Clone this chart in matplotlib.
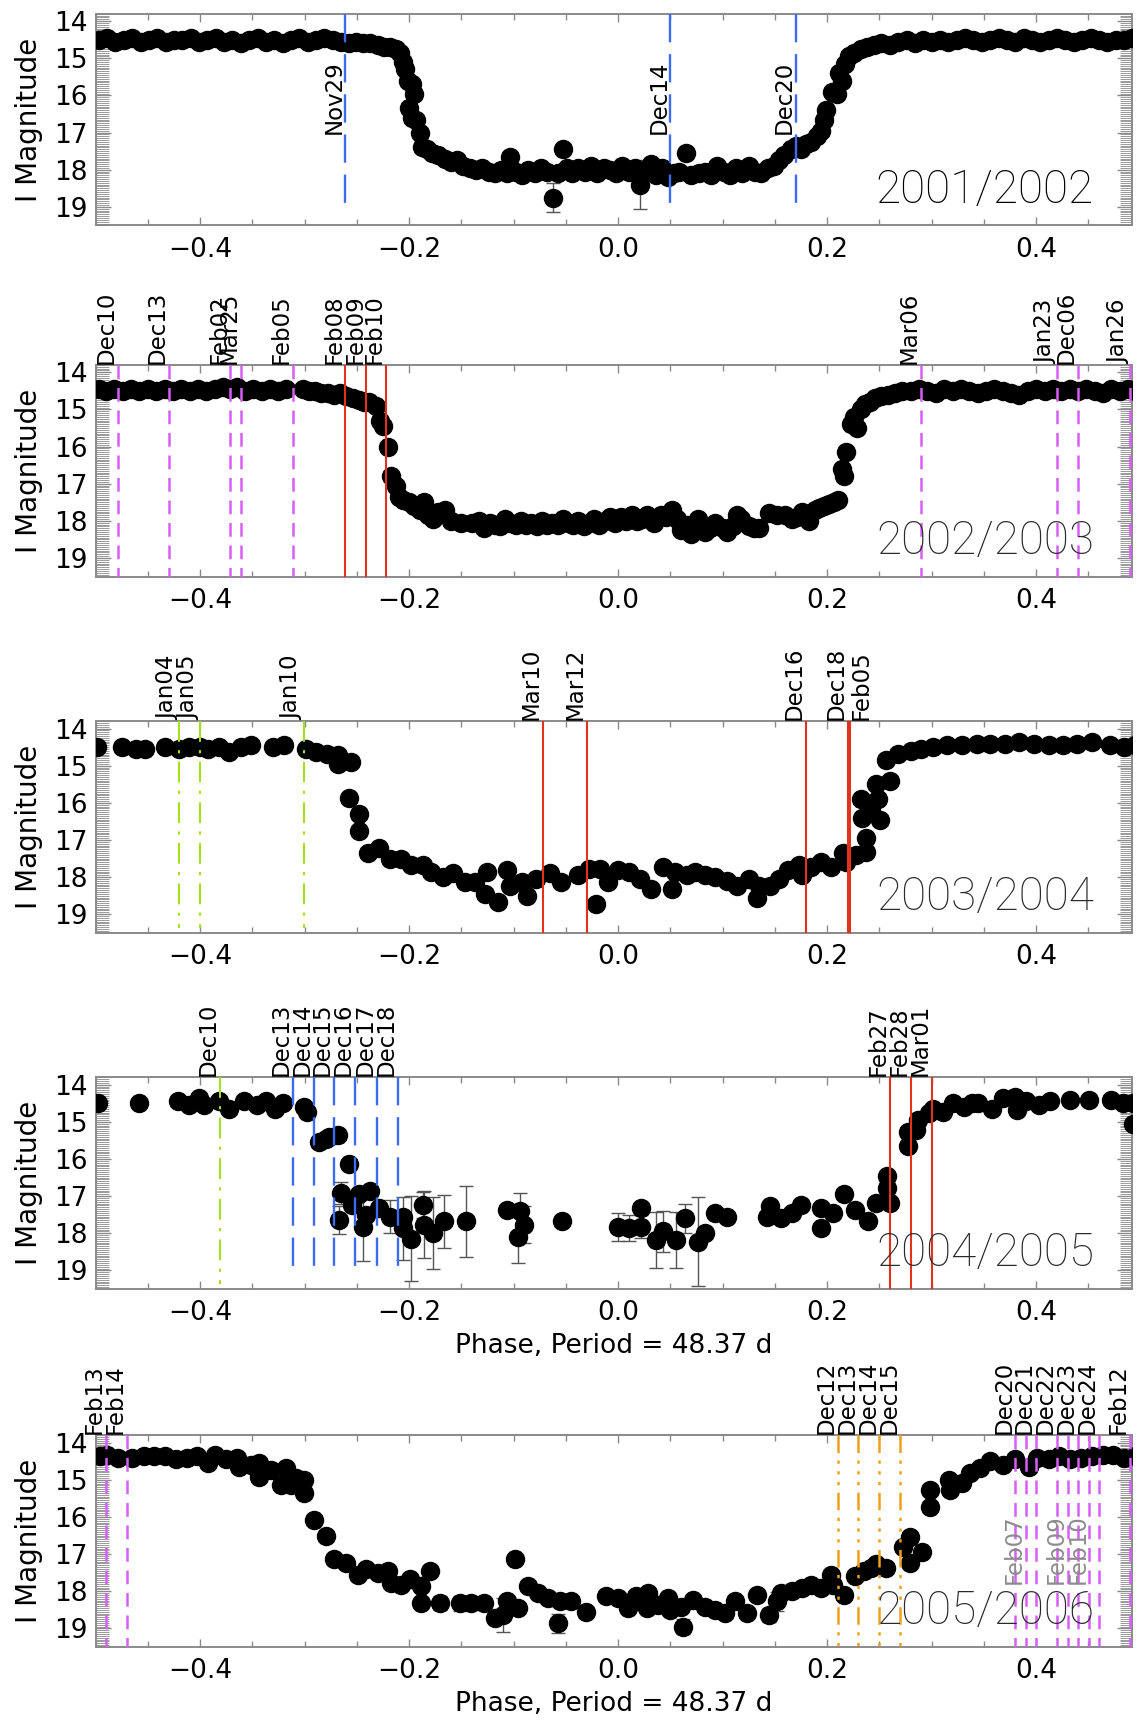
import matplotlib
matplotlib.use('Agg')
import matplotlib.pyplot as plt
import matplotlib.transforms as mtransforms
from matplotlib.ticker import MultipleLocator, FuncFormatter

plt.rcParams['font.family'] = ['DejaVu Sans']

seasons = ['2001/2002', '2002/2003', '2003/2004', '2004/2005', '2005/2006']

# ---------------- 2001/2002 ----------------
p1_phase = [-0.497, -0.489, -0.481, -0.473, -0.465, -0.457, -0.449, -0.441, -0.433, -0.425,
            -0.417, -0.409, -0.401, -0.393, -0.385, -0.377, -0.369, -0.361, -0.353, -0.345,
            -0.337, -0.329, -0.321, -0.313, -0.305, -0.297, -0.289, -0.281, -0.273, -0.265,
            -0.258, -0.251, -0.244, -0.237, -0.230, -0.224, -0.218, -0.213, -0.209, -0.206,
            -0.204, -0.201, -0.197, -0.195, -0.200, -0.197, -0.193, -0.190, -0.188, -0.183,
            -0.178, -0.172, -0.166, -0.160, -0.154, -0.148, -0.142, -0.136, -0.130, -0.124,
            -0.118, -0.112, -0.106, -0.103, -0.098, -0.092, -0.086, -0.080, -0.074, -0.068,
            -0.062, -0.058, -0.053, -0.049, -0.044, -0.038, -0.032, -0.026, -0.020, -0.014,
            -0.008, -0.002, 0.004, 0.010, 0.016, 0.021, 0.026, 0.031, 0.036, 0.042,
            0.048, 0.053, 0.058, 0.065, 0.070, 0.077, 0.083, 0.089, 0.095, 0.101,
            0.107, 0.113, 0.119, 0.125, 0.131, 0.137, 0.143, 0.149, 0.154, 0.159,
            0.165, 0.170, 0.175, 0.180, 0.185, 0.190, 0.194, 0.197, 0.199, 0.205,
            0.209, 0.211, 0.214, 0.217, 0.221, 0.226, 0.232, 0.238, 0.245, 0.252,
            0.260, 0.268, 0.276, 0.284, 0.292, 0.300, 0.308, 0.316, 0.324, 0.332,
            0.340, 0.348, 0.356, 0.364, 0.372, 0.380, 0.388, 0.396, 0.404, 0.412,
            0.420, 0.428, 0.436, 0.444, 0.452, 0.460, 0.468, 0.476, 0.484, 0.492]
p1_mag = [14.50, 14.45, 14.55, 14.50, 14.45, 14.55, 14.50, 14.45, 14.55, 14.50,
          14.50, 14.45, 14.55, 14.50, 14.45, 14.55, 14.50, 14.60, 14.50, 14.45,
          14.55, 14.50, 14.60, 14.50, 14.45, 14.55, 14.50, 14.45, 14.50, 14.55,
          14.60, 14.55, 14.60, 14.60, 14.65, 14.70, 14.70, 14.75, 14.85, 15.10,
          15.30, 15.60, 15.70, 15.95, 16.35, 16.60, 16.65, 17.00, 17.40, 17.45,
          17.55, 17.60, 17.70, 17.80, 17.75, 17.90, 17.95, 18.00, 17.95, 18.05,
          18.10, 18.00, 18.10, 17.65, 18.05, 18.15, 18.00, 18.10, 17.95, 18.05,
          18.75, 18.10, 17.45, 17.95, 18.10, 17.95, 18.05, 17.90, 18.10, 17.95,
          18.00, 18.10, 17.90, 18.05, 17.95, 18.40, 18.00, 17.85, 18.15, 17.95,
          18.20, 18.10, 18.05, 17.55, 18.15, 18.10, 18.05, 18.15, 17.90, 18.05,
          18.15, 17.95, 18.10, 17.90, 18.05, 18.10, 17.95, 17.90, 17.75, 17.60,
          17.45, 17.35, 17.45, 17.30, 17.25, 17.10, 16.95, 16.65, 16.40, 15.90,
          15.95, 15.40, 15.60, 15.15, 14.95, 14.85, 14.75, 14.70, 14.65, 14.60,
          14.65, 14.55, 14.50, 14.60, 14.50, 14.55, 14.50, 14.55, 14.50, 14.45,
          14.50, 14.55, 14.50, 14.45, 14.50, 14.55, 14.45, 14.50, 14.55, 14.50,
          14.45, 14.50, 14.55, 14.50, 14.45, 14.50, 14.55, 14.50, 14.50, 14.45]
p1_eb_phase = [-0.062, 0.021]
p1_eb_mag = [18.75, 18.40]
p1_eb_err = [0.40, 0.65]
p1_blue_phase = [-0.261, 0.050, 0.170]
p1_blue_label = ['Nov29', 'Dec14', 'Dec20']

# ---------------- 2002/2003 ----------------
p2_phase = [-0.497, -0.490, -0.482, -0.474, -0.466, -0.458, -0.450, -0.442, -0.434, -0.426,
            -0.418, -0.410, -0.402, -0.394, -0.386, -0.378, -0.371, -0.365, -0.357, -0.349,
            -0.341, -0.333, -0.325, -0.318, -0.302, -0.296, -0.290, -0.284, -0.278, -0.272,
            -0.266, -0.260, -0.254, -0.248, -0.243, -0.238, -0.232, -0.228, -0.225, -0.220,
            -0.217, -0.213, -0.210, -0.206, -0.200, -0.195, -0.190, -0.186, -0.182, -0.177,
            -0.172, -0.166, -0.160, -0.150, -0.140, -0.133, -0.128, -0.123, -0.118, -0.113,
            -0.108, -0.103, -0.098, -0.093, -0.088, -0.083, -0.078, -0.073, -0.068, -0.063,
            -0.058, -0.053, -0.048, -0.043, -0.038, -0.033, -0.028, -0.023, -0.018, -0.013,
            -0.008, -0.003, 0.003, 0.008, 0.013, 0.018, 0.023, 0.028, 0.034, 0.041,
            0.046, 0.052, 0.056, 0.060, 0.066, 0.070, 0.076, 0.083, 0.088, 0.093,
            0.100, 0.104, 0.110, 0.114, 0.118, 0.125, 0.130, 0.135, 0.144, 0.152,
            0.160, 0.166, 0.171, 0.176, 0.180, 0.183, 0.188, 0.192, 0.197, 0.202,
            0.207, 0.210, 0.214, 0.216, 0.218, 0.223, 0.226, 0.229, 0.232, 0.236,
            0.241, 0.246, 0.252, 0.258, 0.265, 0.272, 0.280, 0.288, 0.296, 0.304,
            0.312, 0.320, 0.328, 0.336, 0.344, 0.352, 0.360, 0.368, 0.376, 0.384,
            0.392, 0.400, 0.408, 0.416, 0.424, 0.432, 0.440, 0.448, 0.456, 0.464,
            0.472, 0.480, 0.488, 0.495]
p2_mag = [14.45, 14.50, 14.45, 14.50, 14.45, 14.50, 14.45, 14.50, 14.45, 14.50,
          14.45, 14.50, 14.45, 14.50, 14.45, 14.40, 14.45, 14.40, 14.50, 14.45,
          14.50, 14.45, 14.50, 14.45, 14.45, 14.50, 14.50, 14.55, 14.55, 14.60,
          14.55, 14.65, 14.70, 14.75, 14.80, 14.80, 14.90, 15.30, 15.45, 16.00,
          16.80, 17.05, 17.35, 17.45, 17.50, 17.60, 17.70, 17.50, 17.85, 17.95,
          17.75, 17.70, 18.00, 18.05, 18.05, 18.00, 18.20, 18.05, 18.10, 18.15,
          17.95, 18.05, 18.10, 18.00, 18.10, 18.05, 18.15, 18.00, 18.10, 18.05,
          18.10, 17.95, 18.05, 18.10, 18.00, 18.15, 18.05, 17.95, 18.10, 18.00,
          17.90, 18.05, 17.90, 18.00, 17.85, 18.00, 17.95, 17.85, 18.05, 17.85,
          17.90, 17.70, 17.95, 18.25, 18.10, 18.35, 17.95, 18.30, 18.20, 18.05,
          18.20, 18.30, 18.15, 17.85, 17.95, 18.15, 18.20, 18.20, 17.80, 17.85,
          17.85, 17.95, 17.90, 17.75, 17.85, 18.00, 17.70, 17.65, 17.60, 17.55,
          17.50, 17.45, 16.60, 16.80, 16.15, 15.40, 15.20, 15.50, 15.00, 14.85,
          14.80, 14.70, 14.65, 14.60, 14.55, 14.50, 14.50, 14.45, 14.50, 14.55,
          14.45, 14.50, 14.45, 14.50, 14.55, 14.50, 14.45, 14.50, 14.55, 14.60,
          14.50, 14.45, 14.50, 14.45, 14.50, 14.45, 14.50, 14.45, 14.50, 14.55,
          14.45, 14.50, 14.45, 14.50]
p2_eb_phase = [-0.128, 0.070]
p2_eb_mag = [18.20, 18.35]
p2_eb_err = [0.12, 0.10]
p2_magenta_phase = [-0.479, -0.430, -0.371, -0.361, -0.311, 0.290, 0.420, 0.440, 0.490]
p2_magenta_label = ['Dec10', 'Dec13', 'Feb02', 'Mar25', 'Feb05', 'Mar06', 'Jan23', 'Dec06', 'Jan26']
p2_red_phase = [-0.261, -0.241, -0.222]
p2_red_label = ['Feb08', 'Feb09', 'Feb10']

# ---------------- 2003/2004 ----------------
p3_phase = [-0.499, -0.475, -0.461, -0.453, -0.434, -0.420, -0.411, -0.400, -0.392, -0.382,
            -0.372, -0.361, -0.351, -0.330, -0.320, -0.299, -0.289, -0.279, -0.268, -0.268,
            -0.256, -0.258, -0.248, -0.248, -0.239, -0.229, -0.218, -0.208, -0.198, -0.187,
            -0.179, -0.168, -0.158, -0.147, -0.137, -0.125, -0.127, -0.115, -0.106, -0.103,
            -0.092, -0.087, -0.079, -0.065, -0.055, -0.038, -0.028, -0.021, -0.017, -0.010,
            0.000, 0.010, 0.021, 0.031, 0.043, 0.052, 0.054, 0.066, 0.074, 0.083,
            0.093, 0.104, 0.114, 0.125, 0.133, 0.135, 0.145, 0.154, 0.163, 0.173,
            0.176, 0.185, 0.194, 0.204, 0.215, 0.218, 0.228, 0.237, 0.237, 0.233,
            0.232, 0.242, 0.251, 0.249, 0.247, 0.260, 0.256, 0.268, 0.280, 0.290,
            0.301, 0.315, 0.329, 0.343, 0.356, 0.370, 0.384, 0.398, 0.412, 0.426,
            0.439, 0.453, 0.471, 0.484, 0.495]
p3_mag = [14.50, 14.50, 14.55, 14.55, 14.50, 14.55, 14.50, 14.50, 14.55, 14.50,
          14.64, 14.50, 14.45, 14.50, 14.45, 14.55, 14.64, 14.68, 14.95, 14.70,
          14.90, 15.86, 16.30, 16.77, 17.36, 17.23, 17.50, 17.50, 17.68, 17.68,
          17.86, 18.00, 17.90, 18.14, 18.14, 17.86, 18.45, 18.68, 17.82, 18.23,
          18.14, 18.50, 18.05, 17.90, 18.14, 17.95, 17.77, 18.73, 17.77, 18.14,
          17.82, 17.86, 18.05, 18.32, 17.73, 18.32, 17.86, 17.95, 17.86, 17.95,
          18.00, 18.10, 18.23, 18.05, 18.55, 18.23, 18.23, 18.05, 17.82, 17.68,
          17.95, 17.73, 17.60, 17.73, 17.36, 17.60, 17.40, 17.32, 16.95, 16.40,
          15.90, 16.20, 16.45, 15.90, 15.50, 15.40, 14.86, 14.68, 14.60, 14.55,
          14.50, 14.45, 14.45, 14.41, 14.41, 14.41, 14.36, 14.41, 14.45, 14.45,
          14.41, 14.36, 14.45, 14.50, 14.45]
p3_green_phase = [-0.420, -0.400, -0.301]
p3_green_label = ['Jan04', 'Jan05', 'Jan10']
p3_red_phase = [-0.072, -0.030, 0.180, 0.220, 0.222]
p3_red_label = ['Mar10', 'Mar12', 'Dec16', 'Dec18', 'Feb05']
p3_red_side = ['right', 'right', 'right', 'right', 'left']

# ---------------- 2004/2005 ----------------
p4_phase = [-0.498, -0.458, -0.421, -0.411, -0.401, -0.396, -0.382, -0.372, -0.358, -0.346,
            -0.337, -0.328, -0.321, -0.301, -0.298, -0.286, -0.280, -0.277, -0.268, -0.258,
            -0.265, -0.267, -0.255, -0.248, -0.244, -0.241, -0.237, -0.229, -0.218, -0.206,
            -0.206, -0.198, -0.187, -0.186, -0.177, -0.167, -0.146, -0.106, -0.094, -0.090,
            -0.096, -0.054, 0.000, 0.010, 0.022, 0.022, 0.036, 0.043, 0.055, 0.064,
            0.076, 0.083, 0.093, 0.104, 0.142, 0.145, 0.156, 0.166, 0.175, 0.194,
            0.194, 0.206, 0.216, 0.227, 0.239, 0.247, 0.260, 0.257, 0.257, 0.277,
            0.277, 0.285, 0.287, 0.297, 0.301, 0.311, 0.320, 0.331, 0.339, 0.344,
            0.358, 0.368, 0.380, 0.382, 0.390, 0.403, 0.413, 0.432, 0.451, 0.472,
            0.483, 0.493, 0.493]
p4_mag = [14.50, 14.50, 14.43, 14.55, 14.36, 14.55, 14.45, 14.64, 14.43, 14.55,
          14.45, 14.64, 14.50, 14.59, 14.73, 15.55, 15.45, 15.41, 15.36, 16.14,
          16.91, 17.64, 17.23, 16.95, 17.82, 17.50, 16.86, 17.32, 17.55, 17.55,
          17.86, 18.14, 17.23, 17.77, 18.00, 17.68, 17.68, 17.36, 17.41, 17.77,
          18.10, 17.68, 17.82, 17.86, 17.32, 17.82, 18.18, 17.95, 18.18, 17.60,
          18.23, 18.00, 17.45, 17.55, 17.55, 17.27, 17.59, 17.45, 17.23, 17.32,
          17.86, 17.45, 16.95, 17.36, 17.68, 17.18, 17.18, 16.77, 16.45, 15.64,
          15.27, 15.23, 14.95, 14.77, 14.64, 14.73, 14.50, 14.59, 14.50, 14.50,
          14.64, 14.36, 14.32, 14.68, 14.45, 14.55, 14.45, 14.41, 14.41, 14.41,
          14.50, 14.50, 15.05]
p4_eb_phase = [-0.265, -0.267, -0.244, -0.218, -0.206, -0.198, -0.187, -0.186, -0.177, -0.167,
               -0.146, -0.094, -0.090, -0.096, 0.000, 0.010, 0.022, 0.036, 0.043, 0.055,
               0.064, 0.076]
p4_eb_mag = [16.91, 17.64, 17.82, 17.55, 17.86, 18.14, 17.23, 17.77, 18.00, 17.68,
             17.68, 17.41, 17.77, 18.10, 17.82, 17.86, 17.82, 18.18, 17.95, 18.18,
             17.60, 18.23]
p4_eb_err = [0.30, 0.38, 0.92, 0.45, 0.85, 1.15, 0.35, 0.90, 0.97, 0.72,
             0.95, 0.50, 0.50, 0.70, 0.38, 0.35, 0.30, 0.75, 0.55, 0.75,
             0.38, 1.20]
p4_green_phase = [-0.381]
p4_green_label = ['Dec10']
p4_blue_phase = [-0.311, -0.291, -0.272, -0.252, -0.231, -0.211]
p4_blue_label = ['Dec13', 'Dec14', 'Dec15', 'Dec16', 'Dec17', 'Dec18']
p4_red_phase = [0.260, 0.280, 0.300]
p4_red_label = ['Feb27', 'Feb28', 'Mar01']

# ---------------- 2005/2006 ----------------
p5_phase = [-0.496, -0.489, -0.479, -0.465, -0.454, -0.444, -0.434, -0.423, -0.413, -0.403,
            -0.392, -0.386, -0.375, -0.365, -0.363, -0.351, -0.344, -0.344, -0.332, -0.323,
            -0.318, -0.313, -0.308, -0.301, -0.301, -0.291, -0.280, -0.272, -0.260, -0.249,
            -0.241, -0.230, -0.220, -0.217, -0.208, -0.199, -0.189, -0.189, -0.180, -0.170,
            -0.151, -0.141, -0.128, -0.118, -0.110, -0.106, -0.099, -0.096, -0.086, -0.077,
            -0.067, -0.056, -0.058, -0.045, -0.031, -0.012, 0.000, 0.009, 0.017, 0.029,
            0.028, 0.038, 0.048, 0.050, 0.062, 0.060, 0.072, 0.083, 0.093, 0.102,
            0.112, 0.123, 0.133, 0.144, 0.152, 0.156, 0.166, 0.176, 0.185, 0.194,
            0.204, 0.206, 0.216, 0.227, 0.235, 0.242, 0.247, 0.256, 0.279, 0.273,
            0.279, 0.291, 0.298, 0.298, 0.317, 0.318, 0.329, 0.337, 0.346, 0.356,
            0.368, 0.380, 0.393, 0.401, 0.412, 0.422, 0.432, 0.443, 0.453, 0.464,
            0.474, 0.484, 0.495]
p5_mag = [14.36, 14.32, 14.41, 14.41, 14.36, 14.36, 14.36, 14.45, 14.41, 14.36,
          14.55, 14.32, 14.45, 14.41, 14.64, 14.59, 14.55, 14.91, 14.73, 15.14,
          14.68, 15.14, 14.95, 15.00, 15.36, 16.09, 16.50, 17.14, 17.23, 17.55,
          17.41, 17.50, 17.45, 17.77, 17.82, 17.68, 17.86, 18.32, 17.45, 18.32,
          18.32, 18.32, 18.32, 18.73, 18.64, 18.27, 17.14, 18.45, 17.86, 18.05,
          18.18, 18.27, 18.86, 18.27, 18.55, 18.14, 18.18, 18.45, 18.14, 18.05,
          18.45, 18.36, 18.18, 18.50, 18.95, 18.41, 18.23, 18.41, 18.50, 18.59,
          18.27, 18.59, 18.09, 18.64, 18.27, 18.05, 18.00, 17.91, 17.82, 17.91,
          17.55, 17.82, 18.09, 17.59, 17.45, 17.36, 17.27, 17.36, 16.55, 16.82,
          17.23, 16.95, 15.27, 15.73, 15.00, 15.27, 15.09, 14.82, 14.68, 14.50,
          14.59, 14.45, 14.64, 14.41, 14.45, 14.36, 14.45, 14.41, 14.36, 14.32,
          14.32, 14.41, 14.36]
p5_eb_phase = [-0.170, -0.151, -0.110, -0.058, 0.062, 0.144, 0.152]
p5_eb_mag = [18.32, 18.32, 18.64, 18.86, 18.95, 18.64, 18.27]
p5_eb_err = [0.18, 0.20, 0.45, 0.25, 0.20, 0.20, 0.25]
p5_magenta_phase = [-0.490, -0.470, 0.380, 0.390, 0.400, 0.420, 0.430, 0.440, 0.451, 0.460, 0.490]
p5_magenta_label = ['Feb13', 'Feb14', 'Dec20', 'Feb07', 'Dec21', 'Dec22', 'Feb09', 'Dec23',
                    'Feb10', 'Dec24', 'Feb12']
p5_magenta_inside = [False, False, False, True, False, False, True, False, True, False, False]
p5_orange_phase = [0.210, 0.230, 0.250, 0.270]
p5_orange_label = ['Dec12', 'Dec13', 'Dec14', 'Dec15']

styles = {
    'blue': dict(color='#3d6cf2', lw=1.7, dashes=(12, 5)),
    'magenta': dict(color='#d65ff7', lw=1.8, dashes=(5.5, 3.5)),
    'red': dict(color='#e2321b', lw=1.5, dashes=None),
    'green': dict(color='#a4e01c', lw=1.5, dashes=(10, 4, 1.5, 4)),
    'orange': dict(color='#efa11d', lw=1.8, dashes=(7, 3, 1.3, 3, 1.3, 3, 1.3, 3)),
}

YTOP, YBOT = 13.8, 19.5
LABEL_FS = 16.5
fig = plt.figure(figsize=(11.38, 17.21), dpi=100)
bottoms = [0.869, 0.665, 0.458, 0.251, 0.043]
axes = [fig.add_axes([0.084, b, 0.911, 0.123]) for b in bottoms]


def fmt(v, pos):
    v = round(v, 1) + 0.0
    return f'{v:.1f}'.replace('-', '\u2212')


def style_axes(ax):
    ax.set_xlim(-0.5, 0.492)
    ax.set_ylim(YBOT, YTOP)
    ax.xaxis.set_major_locator(MultipleLocator(0.2))
    ax.xaxis.set_minor_locator(MultipleLocator(0.05))
    ax.xaxis.set_major_formatter(FuncFormatter(fmt))
    ax.yaxis.set_major_locator(MultipleLocator(1))
    ax.yaxis.set_minor_locator(MultipleLocator(0.05))
    ax.tick_params(which='both', direction='in', top=True, right=True,
                   color='#8a8a8a', labelsize=19)
    ax.tick_params(axis='x', which='major', length=6, width=1, pad=8)
    ax.tick_params(axis='x', which='minor', length=4, width=1)
    ax.tick_params(axis='y', which='major', length=11, width=1, pad=6)
    ax.tick_params(axis='y', which='minor', length=9, width=0.6)
    for s in ax.spines.values():
        s.set_color('#8a8a8a')
        s.set_linewidth(1.4)
    ax.set_ylabel('I Magnitude', fontsize=20, labelpad=8)


def draw_points(ax, ph, mg, eph=None, emg=None, eer=None):
    if eph:
        ax.errorbar(eph, emg, yerr=eer, fmt='none', ecolor='#555555',
                    elinewidth=1, capsize=5, capthick=1, zorder=2)
    ax.plot(ph, mg, 'o', color='black', ms=13, mec='black', zorder=3)


def draw_lines(ax, phases, labels, style, y0=YTOP, y1=YBOT, where='top',
               sides=None, label_y=None, label_color='black', inside=None):
    st = styles[style]
    trans = mtransforms.blended_transform_factory(ax.transData, ax.transAxes)
    for i, (x, lab) in enumerate(zip(phases, labels)):
        ln, = ax.plot([x, x], [y0, y1], color=st['color'], lw=st['lw'], zorder=4)
        if st['dashes']:
            ln.set_dashes(st['dashes'])
        side = sides[i] if sides else 'right'
        ins = inside[i] if inside else (where == 'inside')
        if ins:
            ax.text(x, label_y, lab, rotation=90, ha=side, va='bottom',
                    fontsize=LABEL_FS, color=label_color, zorder=5)
        else:
            ax.text(x, 1.006, lab, transform=trans, rotation=90, ha=side,
                    va='bottom', fontsize=LABEL_FS, color='black', clip_on=False)


for ax in axes:
    style_axes(ax)

# panel 1
ax = axes[0]
draw_points(ax, p1_phase, p1_mag, p1_eb_phase, p1_eb_mag, p1_eb_err)
draw_lines(ax, p1_blue_phase, p1_blue_label, 'blue', y0=13.8, y1=19.15,
           where='inside', label_y=17.05)

# panel 2
ax = axes[1]
draw_points(ax, p2_phase, p2_mag, p2_eb_phase, p2_eb_mag, p2_eb_err)
draw_lines(ax, p2_magenta_phase, p2_magenta_label, 'magenta')
draw_lines(ax, p2_red_phase, p2_red_label, 'red')

# panel 3
ax = axes[2]
draw_points(ax, p3_phase, p3_mag)
draw_lines(ax, p3_green_phase, p3_green_label, 'green', y1=19.36)
draw_lines(ax, p3_red_phase, p3_red_label, 'red', sides=p3_red_side)

# panel 4
ax = axes[3]
draw_points(ax, p4_phase, p4_mag, p4_eb_phase, p4_eb_mag, p4_eb_err)
draw_lines(ax, p4_green_phase, p4_green_label, 'green', y1=19.36)
draw_lines(ax, p4_blue_phase, p4_blue_label, 'blue', y1=19.15)
draw_lines(ax, p4_red_phase, p4_red_label, 'red')

# panel 5
ax = axes[4]
draw_points(ax, p5_phase, p5_mag, p5_eb_phase, p5_eb_mag, p5_eb_err)
draw_lines(ax, p5_orange_phase, p5_orange_label, 'orange')
draw_lines(ax, p5_magenta_phase, p5_magenta_label, 'magenta',
           inside=p5_magenta_inside, label_y=17.8, label_color='#8c8c8c')

for i, (ax, s) in enumerate(zip(axes, seasons)):
    ax.text(0.963, 0.065, s, transform=ax.transAxes, ha='right', va='bottom',
            fontsize=33, fontfamily=['Roboto', 'DejaVu Sans'], fontweight='light',
            color='#000000' if i == 0 else '#2a2a2a', zorder=6)

for ax in axes[3:]:
    ax.set_xlabel('Phase, Period = 48.37 d', fontsize=19, labelpad=5)

fig.savefig('out.png', dpi=100)
